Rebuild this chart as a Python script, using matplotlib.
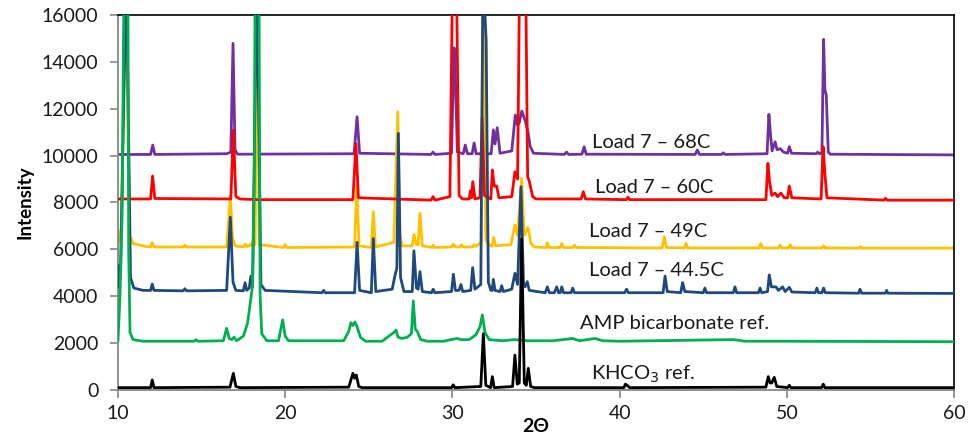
import matplotlib
matplotlib.use("Agg")
import matplotlib.pyplot as plt

plt.rcParams["font.family"] = ["Lato", "DejaVu Sans"]

# XRD profiles, (2-theta, intensity) with the traces already stacked by offset
load68 = [
    (10.0, 10050), (11.95, 10050), (12.08, 10450), (12.2, 10050),
    (16.5, 10080), (16.75, 10150), (16.88, 14790), (17.0, 10250), (17.15, 10060),
    (24.12, 10080), (24.3, 11660), (24.45, 10100),
    (28.72, 10050), (28.84, 10150), (28.96, 10050),
    (29.95, 10100), (30.1, 14600), (30.15, 14000), (30.3, 10150),
    (30.65, 10080), (30.77, 10450), (30.9, 10080),
    (31.18, 10080), (31.3, 10540), (31.42, 10080),
    (32.32, 10080), (32.45, 11100), (32.55, 10500), (32.68, 11190), (32.85, 10100),
    (33.55, 10200), (33.76, 11730), (33.9, 11300), (34.0, 11400), (34.15, 11900),
    (34.35, 11500), (34.52, 11020), (34.65, 10400), (34.85, 10100),
    (36.7, 10050), (36.83, 10150), (36.95, 10050),
    (37.75, 10060), (37.88, 10380), (38.0, 10060),
    (44.52, 10050), (44.65, 10240), (44.78, 10050),
    (46.1, 10050), (46.2, 10120), (46.3, 10050),
    (48.82, 10080), (48.93, 11760), (49.02, 10950), (49.12, 10200), (49.3, 10590),
    (49.42, 10250), (49.6, 10300), (49.8, 10150), (50.05, 10100), (50.15, 10380),
    (50.28, 10100),
    (51.75, 10080), (51.85, 10150), (51.95, 10080),
    (52.1, 10100), (52.2, 14960), (52.28, 12800), (52.36, 12590), (52.48, 10150),
    (52.6, 10060), (60.0, 10030),
]

load60 = [
    (10.0, 8150), (11.95, 8150), (12.07, 9130), (12.2, 8170),
    (16.75, 8150), (16.9, 11090), (17.05, 8250), (17.3, 8150),
    (18.4, 8120), (24.05, 8120), (24.23, 10500), (24.38, 8200),
    (28.72, 8100), (28.84, 8250), (28.96, 8100),
    (29.85, 8250), (30.05, 20000), (30.2, 20000), (30.4, 8300), (30.6, 8150),
    (31.0, 8150), (31.08, 8500), (31.15, 8200), (31.22, 8890), (31.35, 8150),
    (31.65, 8200), (31.78, 11600), (31.92, 8300),
    (32.3, 8150), (32.39, 9390), (32.5, 8700), (32.65, 8700), (32.78, 8200),
    (33.55, 8250), (33.74, 9310), (33.9, 9000), (34.05, 20000), (34.35, 20000),
    (34.5, 9100), (34.6, 8900), (34.8, 8250), (35.0, 8150),
    (37.7, 8150), (37.83, 8460), (37.96, 8150),
    (40.4, 8120), (40.5, 8230), (40.6, 8120),
    (48.75, 8120), (48.87, 9670), (48.97, 8890), (49.1, 8300), (49.3, 8400),
    (49.45, 8250), (49.65, 8400), (49.85, 8200), (50.05, 8200), (50.15, 8700),
    (50.3, 8200),
    (52.05, 8150), (52.17, 10380), (52.27, 9310), (52.4, 8200),
    (55.8, 8100), (55.9, 8180), (56.0, 8100), (60.0, 8100),
]

load49 = [
    (10.0, 6800), (10.05, 6300), (10.2, 6900), (10.45, 18000), (10.7, 6600),
    (10.9, 6250), (11.5, 6150),
    (11.95, 6100), (12.05, 6290), (12.15, 6100),
    (13.9, 6100), (14.0, 6180), (14.1, 6100),
    (16.5, 6100), (16.72, 8280), (16.85, 6500), (17.0, 6150),
    (17.5, 6100), (17.6, 6220), (17.7, 6120), (17.85, 6150), (17.95, 6250),
    (18.05, 6150), (18.2, 6200), (18.32, 17000), (18.45, 6200),
    (19.9, 6080), (20.0, 6200), (20.1, 6080),
    (24.15, 6100), (24.28, 8750), (24.42, 6150),
    (25.15, 6080), (25.27, 7610), (25.4, 6100),
    (26.5, 6300), (26.73, 11870), (26.85, 6600), (27.0, 6150),
    (27.6, 6150), (27.7, 6640), (27.85, 6200), (27.95, 6200), (28.06, 7540),
    (28.2, 6150),
    (28.8, 6080), (28.85, 6180), (28.95, 6080),
    (29.95, 6100), (30.05, 6220), (30.2, 6100), (30.45, 6100), (30.55, 6200),
    (30.65, 6100),
    (31.2, 6100), (31.3, 6200), (31.4, 6120),
    (31.72, 6300), (31.85, 20000), (32.0, 6400), (32.25, 6150),
    (32.38, 6150), (32.47, 6510), (32.58, 6150),
    (33.5, 6200), (33.74, 7040), (33.9, 6600), (34.14, 9030), (34.3, 6600),
    (34.52, 6930), (34.7, 6250), (34.9, 6100),
    (35.6, 6080), (35.68, 6280), (35.78, 6080),
    (36.45, 6080), (36.54, 6250), (36.65, 6080),
    (37.2, 6080), (37.3, 6180), (37.4, 6080),
    (42.55, 6060), (42.67, 6540), (42.8, 6080),
    (43.88, 6060), (43.97, 6260), (44.08, 6060),
    (48.35, 6060), (48.44, 6250), (48.55, 6060),
    (49.5, 6060), (49.6, 6180), (49.7, 6060),
    (50.1, 6060), (50.2, 6200), (50.3, 6060),
    (52.1, 6060), (52.2, 6150), (52.3, 6060),
    (54.3, 6050), (54.4, 6120), (54.5, 6050), (59.9, 6050), (60.0, 6100),
]

load445 = [
    (10.0, 4400), (10.06, 5300), (10.15, 5000), (10.5, 18000), (10.75, 4800),
    (10.95, 4350), (11.5, 4250),
    (11.95, 4250), (12.05, 4520), (12.15, 4250),
    (13.9, 4230), (14.0, 4320), (14.1, 4230),
    (16.5, 4250), (16.72, 7370), (16.88, 4600), (17.05, 4250),
    (17.5, 4230), (17.6, 4580), (17.7, 4250), (17.85, 4350), (17.95, 4860),
    (18.05, 4400), (18.3, 18000), (18.55, 4500), (18.8, 4250),
    (22.2, 4150), (22.3, 4250), (22.4, 4150),
    (24.15, 4150), (24.3, 6300), (24.45, 4250),
    (25.15, 4150), (25.27, 6460), (25.42, 4200),
    (26.4, 4300), (26.57, 4900), (26.68, 5200), (26.77, 10950), (26.9, 4800),
    (27.1, 4200),
    (27.6, 4200), (27.7, 5940), (27.85, 4350), (27.95, 4300), (28.06, 5050),
    (28.2, 4200),
    (28.75, 4150), (28.85, 4300), (28.95, 4150),
    (29.95, 4200), (30.06, 4940), (30.18, 4250), (30.4, 4250), (30.51, 4500),
    (30.62, 4200),
    (31.1, 4250), (31.21, 5220), (31.35, 4300),
    (31.7, 4500), (31.85, 20000), (31.95, 16000), (32.02, 14900), (32.15, 4600),
    (32.3, 4250),
    (32.38, 4250), (32.45, 4720), (32.55, 4250), (32.85, 4200), (32.95, 4450),
    (33.05, 4200),
    (33.55, 4300), (33.74, 4980), (33.9, 4500), (34.1, 8670), (34.25, 4600),
    (34.35, 4400), (34.48, 4620), (34.6, 4250),
    (35.55, 4150), (35.68, 4400), (35.8, 4150),
    (36.1, 4150), (36.24, 4400), (36.35, 4150),
    (36.45, 4150), (36.54, 4400), (36.65, 4150),
    (37.1, 4150), (37.19, 4350), (37.3, 4150),
    (40.3, 4150), (40.42, 4300), (40.52, 4150),
    (42.6, 4150), (42.72, 4860), (42.85, 4200),
    (43.65, 4150), (43.77, 4580), (43.9, 4200),
    (45.0, 4150), (45.1, 4350), (45.2, 4150),
    (46.8, 4150), (46.9, 4400), (47.0, 4150),
    (48.3, 4150), (48.4, 4350), (48.5, 4150),
    (48.85, 4200), (48.95, 4910), (49.08, 4400), (49.35, 4400), (49.5, 4250),
    (49.75, 4400), (49.9, 4200), (50.15, 4380), (50.3, 4180),
    (51.7, 4150), (51.8, 4350), (51.9, 4150),
    (52.1, 4150), (52.2, 4350), (52.3, 4150),
    (54.3, 4130), (54.38, 4300), (54.48, 4130),
    (55.9, 4130), (55.97, 4250), (56.05, 4130), (60.0, 4120),
]

amp_ref = [
    (10.0, 2100), (10.12, 4000), (10.25, 7500), (10.33, 15000), (10.42, 20000),
    (10.58, 20000), (10.64, 6000), (10.72, 2450), (10.9, 2150), (11.5, 2080),
    (14.55, 2080), (14.66, 2150), (14.77, 2080),
    (16.3, 2100), (16.5, 2630), (16.65, 2200), (16.8, 2150), (16.94, 2250),
    (17.1, 2100), (17.5, 2300), (17.75, 2850), (17.95, 3920), (18.05, 4500),
    (18.15, 9000), (18.22, 20000), (18.42, 20000), (18.5, 4000), (18.6, 2400),
    (18.9, 2100),
    (19.6, 2100), (19.85, 2990), (20.0, 2300), (20.2, 2100),
    (23.5, 2100), (23.8, 2500), (23.93, 2870), (24.05, 2750), (24.17, 2900),
    (24.3, 2700), (24.5, 2250), (24.8, 2080),
    (25.8, 2080), (26.2, 2300), (26.5, 2450), (26.63, 2560), (26.75, 2250),
    (27.0, 2200), (27.3, 2250), (27.55, 2400), (27.66, 3800), (27.78, 2600),
    (27.9, 2500), (28.1, 2150), (28.5, 2080),
    (29.5, 2080), (29.9, 2150), (30.3, 2200), (30.5, 2150), (31.0, 2150),
    (31.4, 2350), (31.65, 2700), (31.79, 3200), (31.95, 2450), (32.2, 2150),
    (33.0, 2100), (33.7, 2150), (34.5, 2100), (36.0, 2100), (37.19, 2200),
    (37.6, 2100), (38.53, 2200), (39.0, 2100), (40.0, 2080), (46.8, 2150),
    (47.5, 2080), (50.0, 2080), (60.0, 2060),
]

khco3_ref = [
    (10.0, 100), (11.95, 100), (12.05, 430), (12.15, 100),
    (16.7, 120), (16.9, 710), (17.05, 150), (17.3, 100),
    (23.8, 120), (24.05, 710), (24.15, 500), (24.25, 640), (24.4, 150), (24.6, 100),
    (29.95, 100), (30.05, 220), (30.15, 100),
    (31.7, 150), (31.85, 2400), (32.0, 200), (32.28, 100), (32.39, 570), (32.5, 100),
    (33.6, 150), (33.74, 1490), (33.88, 250), (34.0, 300), (34.14, 6450),
    (34.3, 300), (34.42, 200), (34.54, 925), (34.68, 150), (34.9, 100),
    (40.25, 100), (40.35, 250), (40.45, 200), (40.6, 100),
    (48.75, 120), (48.89, 570), (49.0, 300), (49.1, 300), (49.25, 540),
    (49.4, 150), (50.05, 100), (50.15, 200), (50.25, 100),
    (52.08, 100), (52.18, 250), (52.28, 100), (60.0, 100),
]

# (profile, colour, label, label x, label y, z-order)
series = [
    (load68, "#7030A0", "Load 7 \u2013 68C", 38.35, 10540, 1),
    (load49, "#FFC000", "Load 7 \u2013 49C", 38.17, 6780, 2),
    (load60, "#FF0000", "Load 7 \u2013 60C", 38.53, 8620, 3),
    (load445, "#1F497D", "Load 7 \u2013 44.5C", 38.17, 5080, 4),
    (amp_ref, "#00B050", "AMP bicarbonate ref.", 37.63, 2820, 5),
    (khco3_ref, "#000000", "KHCO$_3$ ref.", 38.29, 680, 6),
]

fig = plt.figure(figsize=(9.71, 4.38), dpi=100)
ax = fig.add_axes([0.1215, 0.1096, 0.861, 0.8562])

for prof, color, label, lx, ly, z in series:
    xs, ys = zip(*prof)
    ax.plot(xs, ys, color=color, linewidth=2.0, zorder=z, solid_joinstyle="round")
    ax.text(lx, ly, label, fontsize=14.5, va="center", ha="left", color="#1a1a1a",
            zorder=10)

ax.set_xlim(10, 60)
ax.set_ylim(0, 16000)
ax.set_xticks(range(10, 61, 10))
ax.set_yticks(range(0, 16001, 2000))
ax.tick_params(axis="both", labelsize=14, colors="#868686", labelcolor="#1a1a1a",
               direction="out", length=6, width=1.2)
ax.tick_params(axis="y", pad=8)
ax.tick_params(axis="x", pad=5)

for side in ("left", "bottom"):
    ax.spines[side].set_color("#868686")
    ax.spines[side].set_linewidth(1.3)
for side in ("top", "right"):
    ax.spines[side].set_color("black")
    ax.spines[side].set_linewidth(1.2)

ax.set_ylabel("Intensity", fontsize=13.5, fontweight="bold", labelpad=6)
ax.set_xlabel("2\u0398", fontsize=14, fontweight="bold", labelpad=-3)

fig.savefig("out.png", dpi=100)
